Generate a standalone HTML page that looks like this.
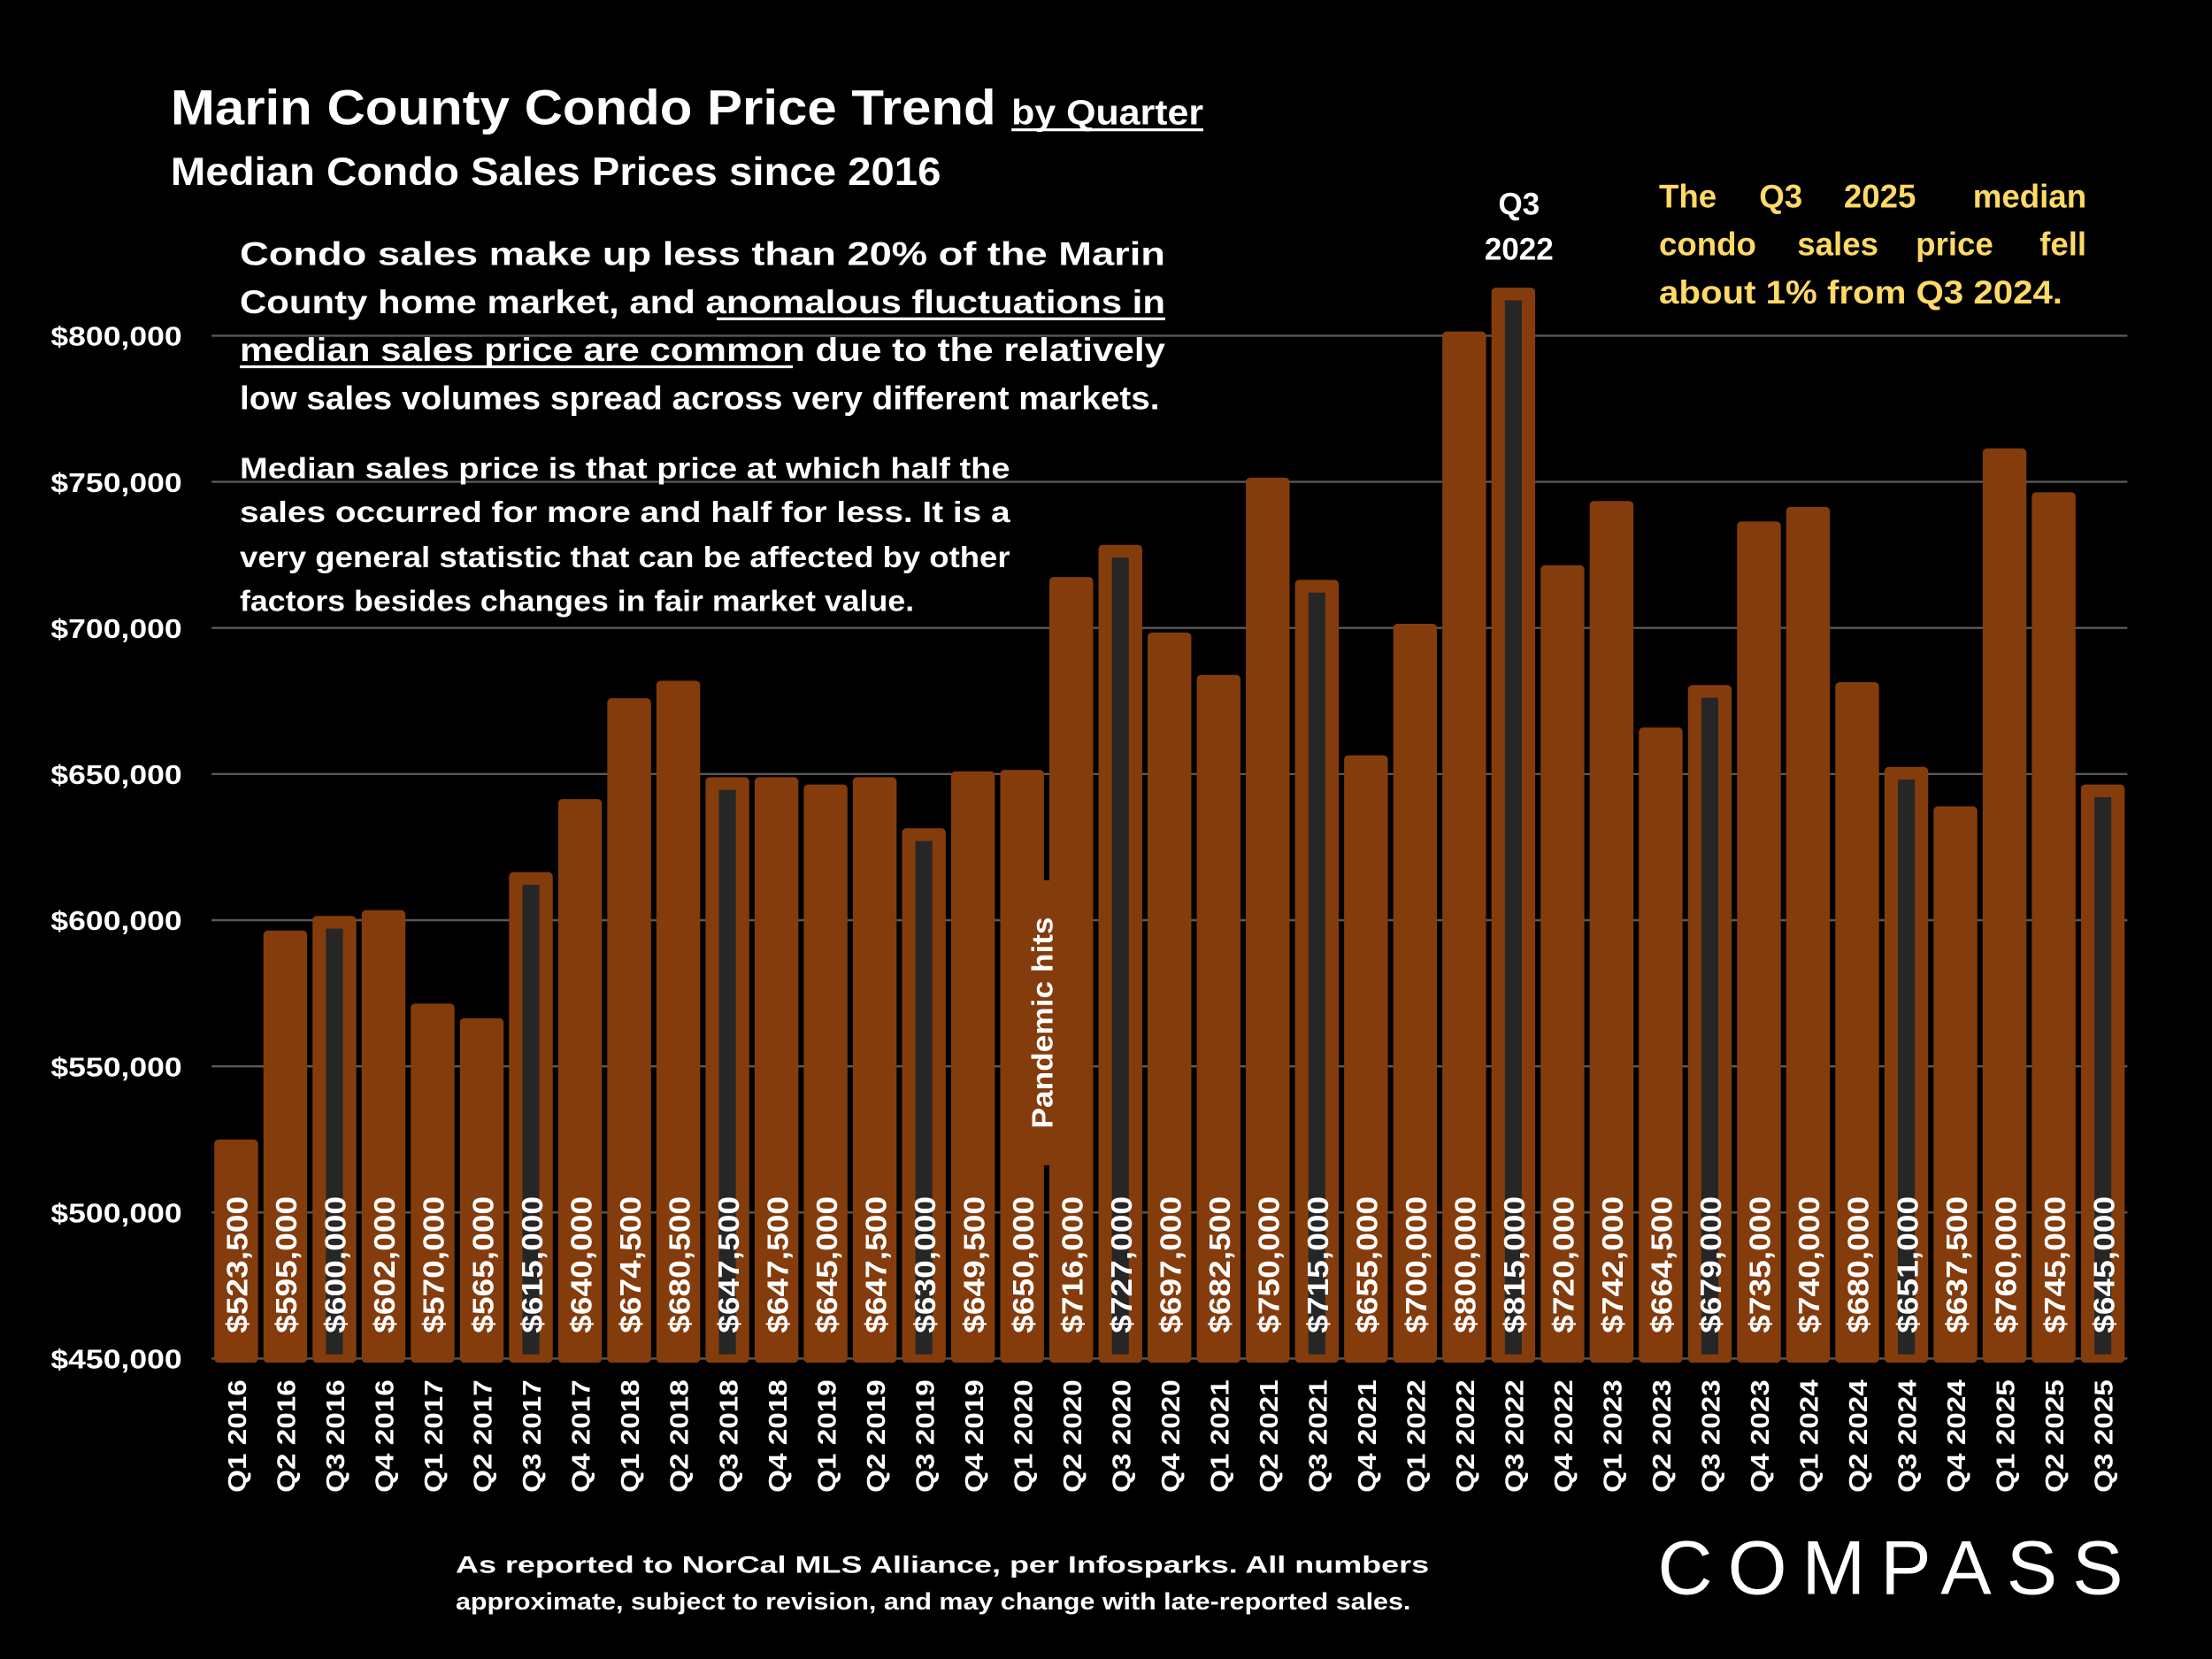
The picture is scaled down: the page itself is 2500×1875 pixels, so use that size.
<!DOCTYPE html>
<html><head><meta charset="utf-8">
<style>
html,body{margin:0;padding:0;background:#000;}
svg{display:block;}
text{font-family:"Liberation Sans",sans-serif;font-weight:bold;fill:#fff;}
</style></head>
<body>
<svg id="chart" width="2500" height="1875" viewBox="0 0 1568 1176" xmlns="http://www.w3.org/2000/svg">
<rect x="0" y="0" width="1568" height="1176" fill="#000"/>
<g>
<text x="121" y="88" font-size="35" textLength="585" lengthAdjust="spacingAndGlyphs">Marin County Condo Price Trend</text>
<text x="717" y="88" font-size="25" textLength="136" lengthAdjust="spacingAndGlyphs">by Quarter</text>
<rect x="717" y="91" width="136" height="2" fill="#fff"/>
<text x="121" y="131" font-size="28" textLength="546" lengthAdjust="spacingAndGlyphs">Median Condo Sales Prices since 2016</text>
</g>
<g id="grid"></g>
<g id="yaxis"></g>
<g id="bars"></g>
<g id="xaxis"></g>
<g id="annot"></g>
<g>
<text x="170" y="188" font-size="23" textLength="656" lengthAdjust="spacingAndGlyphs">Condo sales make up less than 20% of the Marin</text>
<text x="170" y="222" font-size="23" textLength="656" lengthAdjust="spacingAndGlyphs">County home market, and anomalous fluctuations in</text>
<text x="170" y="256" font-size="23" textLength="656" lengthAdjust="spacingAndGlyphs">median sales price are common due to the relatively</text>
<text x="170" y="290" font-size="23" textLength="652" lengthAdjust="spacingAndGlyphs">low sales volumes spread across very different markets.</text>
<rect x="508" y="225" width="318" height="2" fill="#fff"/>
<rect x="170" y="259" width="392" height="2" fill="#fff"/>
</g>
<g>
<text x="170" y="339" font-size="21" textLength="546" lengthAdjust="spacingAndGlyphs">Median sales price is that price at which half the</text>
<text x="170" y="370" font-size="21" textLength="546" lengthAdjust="spacingAndGlyphs">sales occurred for more and half for less. It is a</text>
<text x="170" y="402" font-size="21" textLength="546" lengthAdjust="spacingAndGlyphs">very general statistic that can be affected by other</text>
<text x="170" y="433" font-size="21" textLength="478" lengthAdjust="spacingAndGlyphs">factors besides changes in fair market value.</text>
</g>
<g style="fill:#FFD966">
<text x="1176" y="147" font-size="23" style="fill:#FFD966">The</text>
<text x="1247" y="147" font-size="23" style="fill:#FFD966">Q3</text>
<text x="1307" y="147" font-size="23" style="fill:#FFD966">2025</text>
<text x="1479" y="147" font-size="23" text-anchor="end" style="fill:#FFD966">median</text>
<text x="1176" y="181" font-size="23" style="fill:#FFD966">condo</text>
<text x="1274" y="181" font-size="23" style="fill:#FFD966">sales</text>
<text x="1358" y="181" font-size="23" style="fill:#FFD966">price</text>
<text x="1479" y="181" font-size="23" text-anchor="end" style="fill:#FFD966">fell</text>
<text x="1176" y="215" font-size="23" textLength="286" lengthAdjust="spacingAndGlyphs" style="fill:#FFD966">about 1% from Q3 2024.</text>
</g>
<g>
<text x="323" y="1115" font-size="17" textLength="690" lengthAdjust="spacingAndGlyphs">As reported to NorCal MLS Alliance, per Infosparks. All numbers</text>
<text x="323" y="1141" font-size="17" textLength="677" lengthAdjust="spacingAndGlyphs">approximate, subject to revision, and may change with late-reported sales.</text>
</g>
<g>
<text x="1175" y="1130" font-size="54" textLength="330" lengthAdjust="spacing" style="font-weight:normal">COMPASS</text>
</g>
</svg>
<script>
const categories = ["Q1 2016","Q2 2016","Q3 2016","Q4 2016","Q1 2017","Q2 2017","Q3 2017","Q4 2017","Q1 2018","Q2 2018","Q3 2018","Q4 2018","Q1 2019","Q2 2019","Q3 2019","Q4 2019","Q1 2020","Q2 2020","Q3 2020","Q4 2020","Q1 2021","Q2 2021","Q3 2021","Q4 2021","Q1 2022","Q2 2022","Q3 2022","Q4 2022","Q1 2023","Q2 2023","Q3 2023","Q4 2023","Q1 2024","Q2 2024","Q3 2024","Q4 2024","Q1 2025","Q2 2025","Q3 2025"];
const prices = [523500,595000,600000,602000,570000,565000,615000,640000,674500,680500,647500,647500,645000,647500,630000,649500,650000,716000,727000,697000,682500,750000,715000,655000,700000,800000,815000,720000,742000,664500,679000,735000,740000,680000,651000,637500,760000,745000,645000];
const yTicks = [450000,500000,550000,600000,650000,700000,750000,800000];
const yTickLabels = ["$450,000","$500,000","$550,000","$600,000","$650,000","$700,000","$750,000","$800,000"];

const NS="http://www.w3.org/2000/svg";
const plotL=150, plotR=1508, yMin=450000, yMax=800000, pyMin=963, pyMax=238;
const step=(plotR-plotL)/categories.length;
function y(v){return pyMin-(v-yMin)/(yMax-yMin)*(pyMin-pyMax);}
function xc(i){return plotL+(i+0.5)*step;}
function mk(tag,attrs,parent){const e=document.createElementNS(NS,tag);for(const k in attrs)e.setAttribute(k,attrs[k]);parent.appendChild(e);return e;}

const grid=document.getElementById('grid'), ya=document.getElementById('yaxis'), bars=document.getElementById('bars'), xa=document.getElementById('xaxis'), annot=document.getElementById('annot');
yTicks.forEach((t,i)=>{
  const ln=mk('line',{x1:plotL,x2:plotR,y1:y(t),y2:y(t),stroke:'#595959','stroke-width':1.5},grid);
  
  
  const tx=mk('text',{x:129,y:y(t)+7,'font-size':19,'text-anchor':'end',textLength:93,lengthAdjust:'spacingAndGlyphs'},ya);
  tx.textContent=yTickLabels[i];
  
  
});
const bw=step*0.89;
prices.forEach((v,i)=>{
  const cx=xc(i);
  const top=y(v)-3;
  const r=mk('rect',{x:cx-bw/2,y:top,width:bw,height:966-top,rx:3,fill:'#843C0C'},bars);
  
  
  if(categories[i].startsWith('Q3')){
    const ir=mk('rect',{x:cx-6,y:top+9,width:12,height:960-(top+9),fill:'#262626'},bars);
    
    
  }
  const vl=mk('text',{transform:`translate(${cx+8},945) rotate(-90)`,'font-size':21,textLength:97,lengthAdjust:'spacingAndGlyphs'},bars);
  vl.textContent='$'+v.toLocaleString('en-US');
  
  
  const xl=mk('text',{transform:`translate(${cx+7},1058) rotate(-90)`,'font-size':18,textLength:80,lengthAdjust:'spacingAndGlyphs'},xa);
  xl.textContent=categories[i];
  
  
});
const pi=categories.indexOf('Q1 2020');
const gx=plotL+(pi+1)*step;
const pb=mk('rect',{x:gx-12,y:624,width:24,height:202,fill:'#843C0C'},annot);


const pt=mk('text',{transform:`translate(${gx+4},725) rotate(-90)`,'font-size':21,'text-anchor':'middle',textLength:150,lengthAdjust:'spacingAndGlyphs'},annot);
pt.textContent='Pandemic hits';


const qi=categories.indexOf('Q3 2022');
const q1=mk('text',{x:xc(qi)+4,y:152,'font-size':22,'text-anchor':'middle'},annot);
q1.textContent='Q3';


const q2=mk('text',{x:xc(qi)+4,y:184,'font-size':22,'text-anchor':'middle'},annot);
q2.textContent='2022';


</script>
</body></html>
